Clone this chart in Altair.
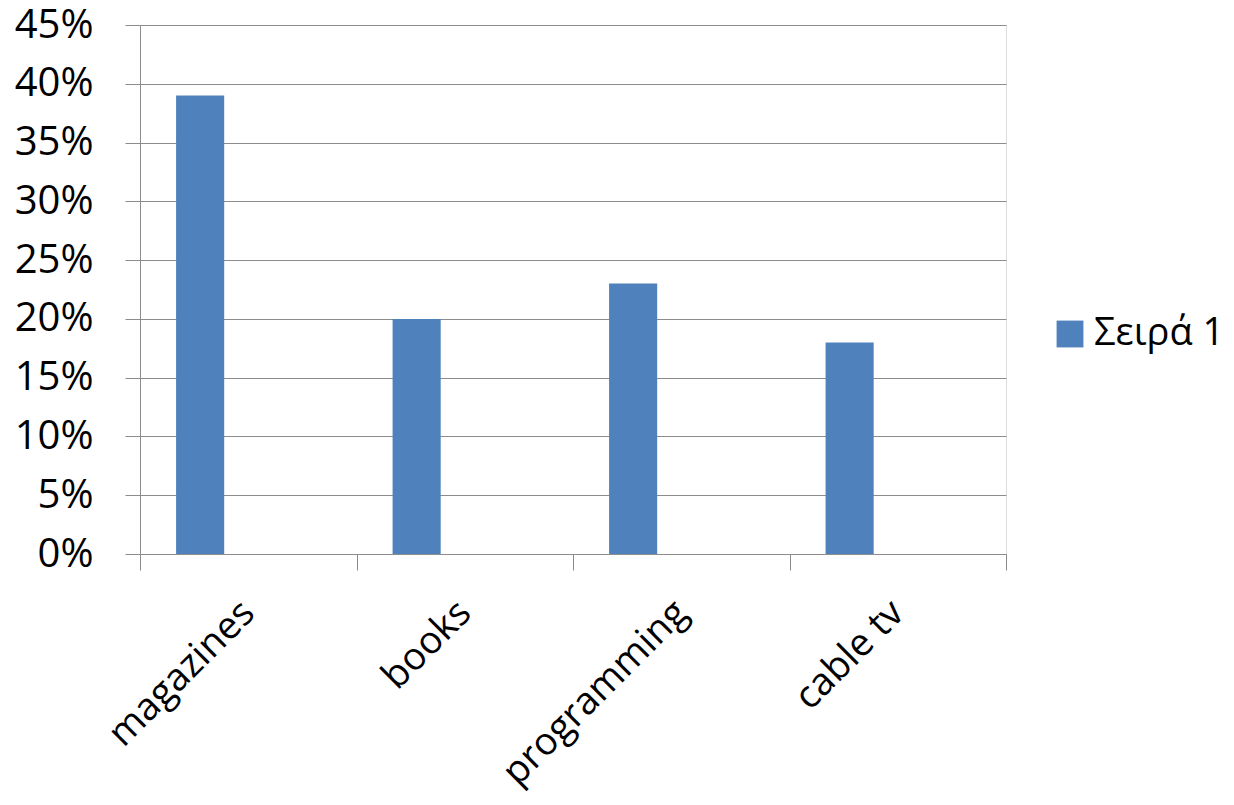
import altair as alt
import pandas as pd

categories = ["magazines", "books", "programming", "cable tv"]
values = [0.39, 0.20, 0.23, 0.18]
series_name = "Σειρά 1"
offset_slots = ["Σειρά 1", "Σειρά 2", "Σειρά 3"]
y_ticks = [0, 0.05, 0.10, 0.15, 0.20, 0.25, 0.30, 0.35, 0.40, 0.45]

df = pd.DataFrame({"category": categories, "value": values, "series": [series_name] * len(categories)})

FONT = "Open Sans"
GRID = "#8c8c8c"

chart = alt.Chart(df).mark_bar(color="#4F81BD").encode(
    x=alt.X("category:N", sort=categories, title=None,
            scale=alt.Scale(paddingInner=0, paddingOuter=0),
            axis=alt.Axis(labelAngle=-45, labelAlign="right", labelBaseline="middle",
                          labelFontSize=38, labelFont=FONT, labelColor="#000000", labelLimit=0,
                          tickBand="extent", tickSize=16, tickColor=GRID, domainColor=GRID,
                          labelPadding=37, labelOffset=0, grid=False)),
    xOffset=alt.XOffset("series:N", scale=alt.Scale(domain=offset_slots, paddingInner=0, paddingOuter=0.75)),
    y=alt.Y("value:Q", title=None,
            scale=alt.Scale(domain=[0, 0.45], nice=False),
            axis=alt.Axis(values=y_ticks, format=".0%", labelFontSize=40, labelFont=FONT,
                          labelColor="#000000", tickSize=15, tickColor=GRID, domainColor=GRID,
                          gridColor=GRID, labelPadding=32, grid=True)),
    color=alt.Color("series:N", scale=alt.Scale(domain=[series_name], range=["#4F81BD"]),
                    legend=alt.Legend(title=None, orient="none", legendX=911, legendY=290,
                                      symbolType="square", symbolSize=720, symbolStrokeWidth=0,
                                      labelFontSize=38, labelFont=FONT, labelColor="#000000",
                                      labelOffset=5, labelLimit=0)),
).properties(
    width=866, height=529,
    autosize=alt.AutoSizeParams(type="none"),
    padding={"left": 132, "top": 17, "right": 220, "bottom": 243},
).configure_view(stroke=None).configure(background="white")

chart.save("out.html", embed_options={"renderer": "svg", "actions": False})
